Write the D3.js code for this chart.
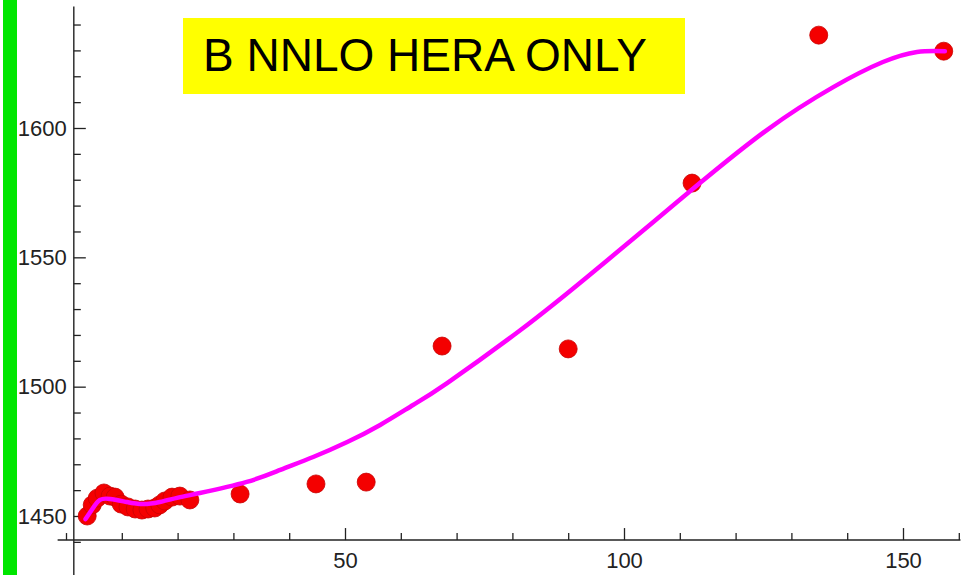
<!DOCTYPE html>
<html>
<head>
<meta charset="utf-8">
<script src="https://cdn.jsdelivr.net/npm/d3@7"></script>
<style>
  body { margin: 0; background: #fff; }
  svg { display: block; }
  .tick text { font-family: "Liberation Sans", Arial, sans-serif; font-size: 22px; fill: #222; }
  .tick line { stroke: #222; stroke-width: 1.3; }
</style>
</head>
<body>
<div id="chart"></div>
<script>
// data points (x, value)
const pointX = [3.8, 4.7, 5.6, 6.8, 7.9, 8.8, 9.9, 11.1, 12.4, 13.6, 14.7, 15.9, 16.8, 17.7, 19.0, 20.4, 22.2,
                31.2, 44.8, 53.8, 67.4, 90.0, 112.2, 134.9, 157.3];
const pointY = [1450.0, 1454.3, 1456.9, 1458.9, 1457.7, 1457.3, 1454.6, 1453.5, 1452.7, 1452.3, 1452.7, 1453.1, 1454.3, 1455.8, 1457.3, 1457.7, 1456.2,
                1458.5, 1462.4, 1463.1, 1515.7, 1514.6, 1578.7, 1635.9, 1629.7];

// fitted curve
const curveX = [3.5, 4.84, 6.09, 7.89, 10.9, 13.8, 16.8, 19.9, 24.0, 32.4, 38.4, 44.3, 50.4, 56.3, 62.2, 68.3,
                81.4, 93.4, 105.2, 113.6, 125.6, 137.5, 146.4, 152.5, 157.5];
const curveY = [1448.8, 1453.1, 1456.2, 1456.6, 1455.4, 1454.6, 1455.4, 1457.0, 1458.9, 1463.2, 1467.8, 1472.8, 1478.6, 1485.2, 1492.9, 1501.4,
                1521.8, 1542.4, 1563.6, 1578.7, 1599.2, 1615.8, 1625.5, 1629.4, 1629.7];

const xMajor = [50, 100, 150];
const xMinor = [0, 10, 20, 30, 40, 60, 70, 80, 90, 110, 120, 130, 140, 160];
const yMajor = [1450, 1500, 1550, 1600];
const yMinor = [1440, 1460, 1470, 1480, 1490, 1510, 1520, 1530, 1540, 1560, 1570, 1580, 1590, 1610, 1620, 1630, 1640];

const title = "B NNLO HERA ONLY";

const width = 966;
const height = 575;

const svg = d3.select('#chart')
  .append('svg')
    .attr('width', width)
    .attr('height', height);

// green strip on the left edge
svg.append('rect')
   .attr('x', 3)
   .attr('y', 0)
   .attr('width', 14)
   .attr('height', height)
   .attr('fill', '#00e600');

const x = d3.scaleLinear().domain([0, 150]).range([66, 903]);
const y = d3.scaleLinear().domain([1450, 1600]).range([516, 128]);

const axisX = 1.4;    // where the y axis sits
const axisY = 1440.7; // where the x axis sits

// axis lines
svg.append('line')
   .attr('x1', x(-1.5)).attr('x2', x(160.3))
   .attr('y1', y(axisY)).attr('y2', y(axisY))
   .attr('stroke', '#222').attr('stroke-width', 1.4);
svg.append('line')
   .attr('x1', x(axisX)).attr('x2', x(axisX))
   .attr('y1', y(1647)).attr('y2', height)
   .attr('stroke', '#222').attr('stroke-width', 1.4);

// x ticks
svg.append('g')
   .attr('transform', `translate(0,${y(axisY)})`)
   .call(d3.axisBottom(x).tickValues(xMinor).tickSize(-7).tickFormat(''))
   .call(g => g.select('.domain').remove());
svg.append('g')
   .attr('transform', `translate(0,${y(axisY)})`)
   .call(d3.axisBottom(x).tickValues(xMajor).tickSize(-12).tickPadding(12))
   .call(g => g.select('.domain').remove());

// y ticks
svg.append('g')
   .attr('transform', `translate(${x(axisX)},0)`)
   .call(d3.axisLeft(y).tickValues(yMinor).tickSize(-7).tickFormat(''))
   .call(g => g.select('.domain').remove());
svg.append('g')
   .attr('transform', `translate(${x(axisX)},0)`)
   .call(d3.axisLeft(y).tickValues(yMajor).tickSize(-12).tickPadding(7).tickFormat(d3.format('d')))
   .call(g => g.select('.domain').remove());

// points
const points = pointX.map((v, i) => ({ x: v, y: pointY[i] }));
svg.selectAll('.pt')
   .data(points)
   .join('circle')
      .attr('class', 'pt')
      .attr('cx', d => x(d.x))
      .attr('cy', d => y(d.y))
      .attr('r', 9)
      .attr('fill', '#f40000')
      .attr('stroke', '#c80000')
      .attr('stroke-width', 0.8);

// fit curve
const curve = curveX.map((v, i) => ({ x: v, y: curveY[i] }));
svg.append('path')
   .datum(curve)
   .attr('d', d3.line().x(d => x(d.x)).y(d => y(d.y)).curve(d3.curveNatural))
   .attr('fill', 'none')
   .attr('stroke', '#ff00ff')
   .attr('stroke-width', 4.5)
   .attr('stroke-linecap', 'round');

// title box
svg.append('rect')
   .attr('x', 183)
   .attr('y', 18)
   .attr('width', 502)
   .attr('height', 76)
   .attr('fill', '#ffff00');
svg.append('text')
   .attr('x', 203)
   .attr('y', 71)
   .attr('font-family', '"Liberation Sans", Arial, sans-serif')
   .attr('font-size', 46)
   .attr('fill', '#000')
   .text(title);
</script>
</body>
</html>
